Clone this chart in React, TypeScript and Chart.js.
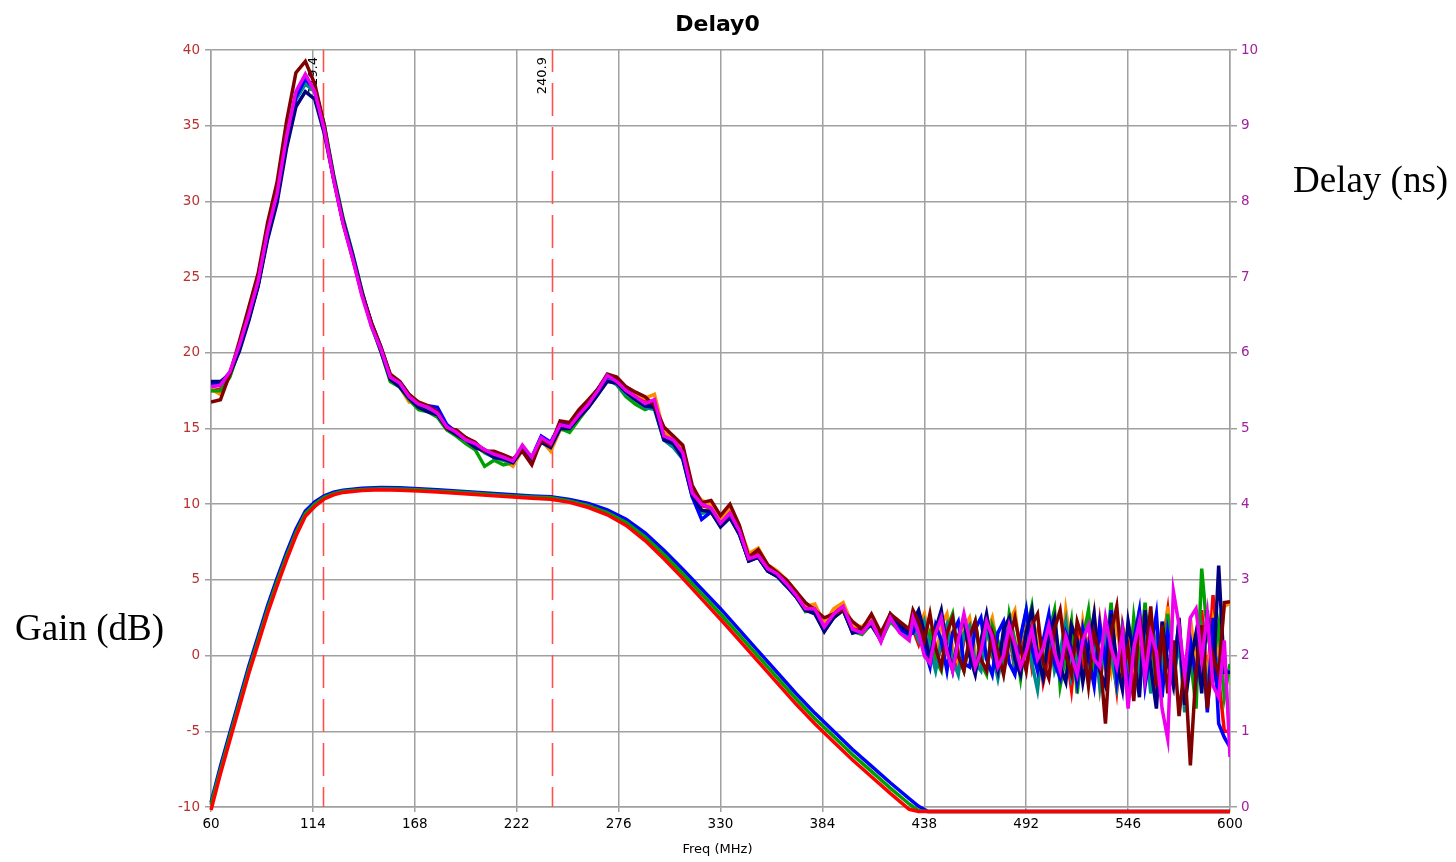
import React, { useEffect, useRef } from "react";
import { Chart, registerables } from "chart.js";

Chart.register(...registerables);

// ---------- axis ticks / markers ----------
const xTicks = [60, 114, 168, 222, 276, 330, 384, 438, 492, 546, 600];
const gainTicks = [-10, -5, 0, 5, 10, 15, 20, 25, 30, 35, 40];
const delayTicks = [0, 1, 2, 3, 4, 5, 6, 7, 8, 9, 10];
const markerFreqs = [119.4, 240.9];

// ---------- gain traces (dB) ----------
const gainFreqs = [
  60, 65, 70, 75, 80, 85, 90, 95, 100, 105, 110, 115, 120, 125, 130, 140, 150, 160, 170, 180,
  190, 200, 210, 220, 230, 240, 250, 260, 270, 280, 290, 300, 310, 320, 330, 340, 350, 360, 370, 380,
  390, 400, 410, 420, 430, 435, 440, 445, 600,
];
const gainRed = [
  -10.2, -7.8, -5.6, -3.4, -1.2, 0.8, 2.8, 4.6, 6.3, 7.9, 9.2, 9.85, 10.35, 10.62, 10.78, 10.9, 10.95, 10.92, 10.87, 10.8,
  10.72, 10.64, 10.55, 10.47, 10.4, 10.33, 10.12, 9.78, 9.3, 8.6, 7.6, 6.4, 5.1, 3.75, 2.4, 1.0, -0.4, -1.8, -3.2, -4.5,
  -5.7, -6.9, -8.0, -9.1, -10.15, -10.3, -10.3, -10.3, -10.3,
];
const gainGreen = [
  -9.85, -7.55, -5.35, -3.15, -0.95, 1.05, 3.05, 4.85, 6.55, 8.1, 9.38, 10.0, 10.45, 10.7, 10.85, 10.97, 11.02, 11.0, 10.95, 10.88,
  10.8, 10.72, 10.63, 10.55, 10.48, 10.42, 10.22, 9.9, 9.45, 8.8, 7.85, 6.68, 5.4, 4.08, 2.75, 1.35, -0.05, -1.45, -2.85, -4.15,
  -5.35, -6.55, -7.65, -8.75, -9.8, -10.25, -10.3, -10.3, -10.3,
];
const gainBlue = [
  -9.7, -7.3, -5.1, -2.9, -0.7, 1.3, 3.3, 5.1, 6.8, 8.35, 9.55, 10.15, 10.55, 10.8, 10.93, 11.05, 11.1, 11.08, 11.02, 10.95,
  10.87, 10.79, 10.7, 10.62, 10.55, 10.5, 10.32, 10.05, 9.62, 9.0, 8.1, 6.95, 5.7, 4.4, 3.1, 1.7, 0.3, -1.1, -2.5, -3.8,
  -5.0, -6.2, -7.3, -8.4, -9.45, -9.95, -10.3, -10.3, -10.3,
];

// ---------- delay traces (ns) ----------
const delayFreqs = [
  60, 65, 70, 75, 80, 85, 90, 95, 100, 105,
  110, 115, 120, 125, 130, 135, 140, 145, 150, 155,
  160, 165, 170, 175, 180, 185, 190, 195, 200, 205,
  210, 215, 220, 225, 230, 235, 240, 245, 250, 255,
  260, 265, 270, 275, 280, 285, 290, 295, 300, 305,
  310, 315, 320, 325, 330, 335, 340, 345, 350, 355,
  360, 365, 370, 375, 380, 385, 390, 395, 400, 405,
  410, 415, 420, 425, 430,
  432, 435, 438, 441, 444, 447, 450, 453, 456, 459,
  462, 465, 468, 471, 474, 477, 480, 483, 486, 489,
  492, 495, 498, 501, 504, 507, 510, 513, 516, 519,
  522, 525, 528, 531, 534, 537, 540, 543, 546, 549,
  552, 555, 558, 561, 564, 567, 570, 573, 576, 579,
  582, 585, 588, 591, 594, 597, 600,
];
const delayMagenta = [
  5.55, 5.57, 5.75, 6.1, 6.5, 6.95, 7.6, 8.1, 8.85, 9.45,
  9.68, 9.45, 8.95, 8.28, 7.7, 7.25, 6.75, 6.35, 6.05, 5.68,
  5.6, 5.42, 5.32, 5.28, 5.2, 5.02, 4.95, 4.85, 4.8, 4.72,
  4.66, 4.62, 4.57, 4.78, 4.62, 4.88, 4.8, 5.05, 5.02, 5.18,
  5.32, 5.5, 5.7, 5.62, 5.5, 5.42, 5.33, 5.38, 4.9, 4.85,
  4.68, 4.15, 4.0, 3.95, 3.75, 3.88, 3.65, 3.28, 3.32, 3.15,
  3.08, 2.95, 2.8, 2.62, 2.62, 2.38, 2.55, 2.65, 2.35, 2.3,
  2.45, 2.18, 2.5, 2.3, 2.2,
  2.5, 2.3, 2.0, 1.9, 2.3, 2.5, 2.05, 1.8, 2.2, 2.55,
  2.2, 1.85, 2.05, 2.45, 2.25, 1.85, 2.0, 2.4, 2.15, 1.85,
  2.05, 2.35, 1.95, 2.1, 2.4, 2.05, 1.8, 2.25, 2.0, 1.75,
  2.2, 2.4, 1.95, 1.85, 2.5, 2.1, 1.85, 2.3, 1.3, 2.1,
  2.45, 1.7, 2.3, 2.05, 1.3, 0.9, 2.85, 2.4, 1.75, 2.5,
  2.62, 1.95, 2.55, 1.6, 1.45, 2.2, 0.66,
];
const delayMaroon = [
  5.35, 5.38, 5.72, 6.15, 6.6, 7.05, 7.72, 8.25, 9.05, 9.7,
  9.85, 9.55, 9.0, 8.3, 7.72, 7.25, 6.78, 6.4, 6.08, 5.72,
  5.62, 5.45, 5.35, 5.3, 5.22, 5.0, 4.98, 4.88, 4.82, 4.7,
  4.7, 4.65, 4.6, 4.7, 4.52, 4.85, 4.78, 5.1, 5.08, 5.25,
  5.38, 5.52, 5.72, 5.68, 5.55, 5.48, 5.42, 5.3, 5.02, 4.9,
  4.78, 4.25, 4.02, 4.05, 3.85, 4.0, 3.72, 3.3, 3.4, 3.2,
  3.1, 3.0, 2.85, 2.7, 2.6, 2.5, 2.55, 2.6, 2.45, 2.35,
  2.55, 2.3, 2.55, 2.45, 2.35,
  2.6, 2.45, 2.2, 2.55, 2.1, 1.85, 2.3, 2.5, 2.0, 1.8,
  2.25, 2.45, 1.95, 1.8, 2.3, 2.05, 1.75, 2.2, 2.5, 2.1,
  1.8, 2.4, 2.55, 1.9, 1.7, 2.35, 2.6, 2.0, 1.75, 2.45,
  2.2, 1.6, 2.3, 2.0, 1.1, 2.3, 2.65, 1.8, 2.1, 1.4,
  2.5, 1.9, 2.65, 1.6, 2.4, 1.5, 2.2, 1.2, 1.9, 0.55,
  1.8, 2.4, 1.3, 2.0, 1.75, 2.7, 2.71,
];
const delayNavy = [
  5.62, 5.62, 5.72, 6.02, 6.42, 6.88, 7.5, 7.98, 8.7, 9.25,
  9.45, 9.35, 8.9, 8.3, 7.72, 7.28, 6.78, 6.38, 6.02, 5.65,
  5.55, 5.4, 5.28, 5.22, 5.18, 5.0, 4.92, 4.85, 4.75, 4.7,
  4.62, 4.6, 4.55, 4.72, 4.6, 4.82, 4.75, 5.0, 5.0, 5.15,
  5.28, 5.45, 5.62, 5.6, 5.48, 5.38, 5.3, 5.28, 4.85, 4.8,
  4.62, 4.12, 3.92, 3.9, 3.7, 3.82, 3.6, 3.25, 3.3, 3.12,
  3.05, 2.92, 2.78, 2.6, 2.55, 2.32, 2.5, 2.6, 2.3, 2.35,
  2.4, 2.2, 2.55, 2.4, 2.3,
  2.45, 2.6, 2.3, 1.95, 2.35, 2.6, 2.1, 1.8, 2.25, 2.5,
  2.0, 1.75, 2.2, 2.55, 2.1, 1.8, 2.35, 2.5, 1.95, 1.75,
  2.3, 2.6, 2.0, 1.7, 2.25, 2.5, 1.85, 1.65, 2.4, 2.2,
  1.65, 2.1, 2.55, 1.8, 1.6, 2.55, 1.9, 1.55, 2.45, 2.0,
  1.45, 2.6, 1.85, 1.3, 2.45, 1.9, 1.6, 2.5, 1.35, 1.9,
  2.3, 1.5, 2.6, 1.65, 3.19, 1.78, 1.78,
];
const delayBlue = [
  5.6, 5.6, 5.74, 6.08, 6.45, 6.9, 7.55, 8.05, 8.8, 9.38,
  9.62, 9.48, 8.98, 8.32, 7.75, 7.3, 6.8, 6.4, 6.08, 5.7,
  5.62, 5.45, 5.3, 5.3, 5.28, 5.05, 4.95, 4.88, 4.78, 4.72,
  4.62, 4.6, 4.58, 4.75, 4.62, 4.9, 4.82, 5.05, 5.05, 5.2,
  5.35, 5.52, 5.68, 5.65, 5.52, 5.4, 5.3, 5.3, 4.88, 4.82,
  4.6, 4.1, 3.8, 3.9, 3.72, 3.85, 3.62, 3.25, 3.3, 3.12,
  3.05, 2.92, 2.78, 2.6, 2.58, 2.32, 2.52, 2.62, 2.3, 2.32,
  2.42, 2.22, 2.52, 2.35, 2.28,
  2.3, 2.5, 2.1, 1.85, 2.4, 2.2, 1.8, 2.3, 2.45, 1.9,
  1.85, 2.35, 2.5, 1.95, 1.75, 2.3, 2.45, 1.9, 1.75, 2.25,
  2.6, 2.1, 1.8, 2.2, 2.55, 1.9, 1.7, 2.3, 2.1, 1.65,
  2.35, 2.0, 1.6, 2.4, 1.9, 2.6, 1.7, 2.3, 1.5, 2.2,
  2.6, 1.6, 2.1, 2.55, 1.45, 2.3, 1.8, 2.45, 1.4, 2.2,
  1.7, 2.35, 1.25, 2.5, 1.1, 0.92, 0.79,
];
const delayTeal = [
  5.58, 5.58, 5.72, 6.08, 6.48, 6.92, 7.55, 8.05, 8.78, 9.35,
  9.55, 9.45, 8.98, 8.32, 7.75, 7.3, 6.8, 6.38, 6.05, 5.68,
  5.58, 5.4, 5.3, 5.25, 5.18, 5.0, 4.95, 4.85, 4.78, 4.68,
  4.62, 4.58, 4.55, 4.75, 4.6, 4.85, 4.78, 5.02, 5.0, 5.15,
  5.3, 5.48, 5.65, 5.58, 5.45, 5.38, 5.28, 5.25, 4.85, 4.75,
  4.6, 4.1, 3.88, 3.9, 3.72, 3.85, 3.6, 3.28, 3.3, 3.12,
  3.05, 2.92, 2.78, 2.6, 2.6, 2.35, 2.52, 2.62, 2.32, 2.3,
  2.42, 2.2, 2.48, 2.32, 2.25,
  2.4, 2.2, 2.45, 2.1, 1.8, 2.2, 2.4, 1.95, 1.75, 2.3,
  2.4, 1.9, 1.8, 2.35, 2.05, 1.7, 2.1, 2.35, 1.85, 2.2,
  2.6, 1.9, 1.55, 2.2, 2.35, 1.8, 2.05, 2.45, 1.7, 1.95,
  2.3, 1.7, 2.25, 1.6, 2.3, 2.0, 1.6, 2.35, 1.9, 2.2,
  1.75, 2.3, 1.5, 2.2, 1.8, 2.35, 1.65, 2.2, 1.25, 2.15,
  1.7, 2.3, 1.55, 2.1, 1.85, 1.8, 1.8,
];
const delayGreen = [
  5.5, 5.5, 5.68, 6.05, 6.45, 6.9, 7.55, 8.05, 8.82, 9.42,
  9.6, 9.5, 9.02, 8.35, 7.78, 7.32, 6.82, 6.35, 6.02, 5.62,
  5.55, 5.38, 5.25, 5.22, 5.15, 4.98, 4.9, 4.8, 4.72, 4.5,
  4.58, 4.52, 4.55, 4.72, 4.6, 4.82, 4.75, 5.0, 4.95, 5.12,
  5.28, 5.45, 5.65, 5.58, 5.42, 5.32, 5.25, 5.3, 4.88, 4.8,
  4.65, 4.15, 3.9, 3.92, 3.72, 3.85, 3.62, 3.25, 3.3, 3.12,
  3.05, 2.92, 2.78, 2.58, 2.6, 2.35, 2.5, 2.6, 2.32, 2.28,
  2.42, 2.2, 2.45, 2.32, 2.25,
  2.35, 2.5, 2.05, 2.3, 1.95, 1.8, 2.35, 2.55, 2.0, 1.8,
  2.2, 2.45, 1.9, 1.75, 2.4, 2.2, 1.8, 2.55, 2.2, 1.7,
  2.3, 2.65, 2.0, 1.75, 2.3, 2.6, 1.6, 2.0, 2.45, 1.5,
  2.2, 2.6, 1.8, 2.35, 1.95, 2.7, 1.65, 2.1, 1.55, 2.5,
  1.9, 2.7, 1.7, 2.2, 1.6, 2.55, 1.75, 2.3, 1.5, 2.0,
  1.3, 3.15, 2.3, 1.9, 2.4, 1.45, 1.89,
];
const delayOrange = [
  5.52, 5.45, 5.7, 6.05, 6.45, 6.9, 7.55, 8.05, 8.82, 9.4,
  9.62, 9.5, 9.0, 8.32, 7.72, 7.28, 6.78, 6.38, 6.05, 5.7,
  5.55, 5.35, 5.35, 5.3, 5.2, 5.05, 4.95, 4.88, 4.8, 4.72,
  4.62, 4.58, 4.5, 4.72, 4.6, 4.85, 4.7, 4.98, 5.0, 5.2,
  5.3, 5.5, 5.68, 5.62, 5.55, 5.45, 5.4, 5.45, 4.95, 4.88,
  4.72, 4.2, 4.05, 4.0, 3.8, 3.95, 3.7, 3.35, 3.42, 3.2,
  3.12, 3.0, 2.85, 2.65, 2.68, 2.42, 2.62, 2.7, 2.4, 2.38,
  2.5, 2.25, 2.55, 2.38, 2.3,
  2.5, 2.35, 2.55, 2.2, 1.95, 2.4, 2.55, 2.1, 1.9, 2.35,
  2.5, 2.05, 1.85, 2.3, 2.5, 2.1, 1.9, 2.45, 2.6, 2.0,
  1.85, 2.5, 2.2, 1.8, 2.45, 2.2, 1.75, 2.6, 2.1, 1.7,
  2.45, 2.0, 2.55, 1.6, 2.2, 1.8, 2.5, 1.7, 2.35, 1.9,
  2.6, 1.75, 2.4, 2.05, 1.55, 2.65, 1.9, 2.3, 1.6, 2.5,
  1.85, 2.2, 1.7, 2.45, 2.0, 2.65, 2.69,
];
const delayRed = [
  5.5, 5.52, 5.72, 6.08, 6.48, 6.92, 7.58, 8.08, 8.85, 9.42,
  9.65, 9.45, 8.95, 8.3, 7.72, 7.28, 6.78, 6.38, 6.05, 5.68,
  5.58, 5.4, 5.3, 5.28, 5.2, 5.02, 4.95, 4.85, 4.78, 4.7,
  4.64, 4.6, 4.55, 4.75, 4.6, 4.85, 4.8, 5.05, 5.02, 5.2,
  5.35, 5.52, 5.7, 5.62, 5.5, 5.42, 5.35, 5.35, 4.9, 4.85,
  4.68, 4.18, 3.98, 3.95, 3.75, 3.9, 3.65, 3.3, 3.35, 3.15,
  3.08, 2.95, 2.8, 2.62, 2.65, 2.4, 2.55, 2.68, 2.38, 2.32,
  2.48, 2.2, 2.5, 2.35, 2.28,
  2.35, 2.15, 2.4, 2.25, 1.9, 2.1, 2.4, 2.0, 1.8, 2.2,
  2.35, 1.85, 2.0, 2.4, 2.0, 1.75, 2.25, 2.3, 1.8, 1.95,
  2.35, 1.85, 2.3, 1.65, 2.0, 2.35, 1.75, 2.1, 1.55, 2.3,
  1.9, 2.2, 1.7, 2.45, 1.85, 2.15, 1.55, 2.4, 2.0, 1.6,
  2.55, 1.85, 2.3, 1.5, 2.1, 2.6, 1.7, 2.2, 1.45, 2.35,
  1.9, 2.6, 1.6, 2.8, 1.7, 1.0, 1.0,
];

const TICK_FONT = { family: "'DejaVu Sans', Verdana, sans-serif", size: 13.5 };
const GRID = "#a0a0a0";

export default function App() {
  const ref = useRef<HTMLCanvasElement>(null);

  useEffect(() => {
    const canvas = ref.current;
    if (!canvas) return;

    const pts = (xs: number[], ys: number[]) => xs.map((x, i) => ({ x, y: ys[i] }));

    const delaySets = [
      { label: "Delay magenta", ys: delayMagenta, color: "#ee00ee" },
      { label: "Delay maroon", ys: delayMaroon, color: "#800000" },
      { label: "Delay navy", ys: delayNavy, color: "#000080" },
      { label: "Delay blue", ys: delayBlue, color: "#0000ff" },
      { label: "Delay teal", ys: delayTeal, color: "#008b8b" },
      { label: "Delay green", ys: delayGreen, color: "#00a000" },
      { label: "Delay orange", ys: delayOrange, color: "#ff8c00" },
      { label: "Delay red", ys: delayRed, color: "#ff0000" },
    ].map((s) => ({
      label: s.label,
      data: pts(delayFreqs, s.ys),
      yAxisID: "y2",
      borderColor: s.color,
      backgroundColor: s.color,
      borderWidth: 3.5,
      pointRadius: 0,
      tension: 0,
      fill: false,
    }));

    const gainSets = [
      { label: "Gain red", ys: gainRed, color: "#ff0000" },
      { label: "Gain green", ys: gainGreen, color: "#00a000" },
      { label: "Gain blue", ys: gainBlue, color: "#0000ff" },
    ].map((s) => ({
      label: s.label,
      data: pts(gainFreqs, s.ys),
      yAxisID: "y",
      borderColor: s.color,
      backgroundColor: s.color,
      borderWidth: 3.5,
      pointRadius: 0,
      tension: 0,
      fill: false,
      clip: false as any,
    }));

    const overlay = {
      id: "overlay",
      beforeDatasetsDraw(chart: any) {
        const { ctx, chartArea, scales } = chart;
        ctx.save();
        markerFreqs.forEach((f) => {
          const px = Math.round(scales.x.getPixelForValue(f)) + 0.5;
          ctx.strokeStyle = "#ff5050";
          ctx.lineWidth = 1.6;
          ctx.setLineDash([33, 11]);
          ctx.lineDashOffset = 11;
          ctx.beginPath();
          ctx.moveTo(px, chartArea.top);
          ctx.lineTo(px, chartArea.bottom);
          ctx.stroke();
          ctx.setLineDash([]);
          ctx.save();
          ctx.translate(px - 3, chartArea.top + 7);
          ctx.rotate(-Math.PI / 2);
          ctx.font = "13px 'DejaVu Sans', Verdana, sans-serif";
          ctx.fillStyle = "#000";
          ctx.textAlign = "right";
          ctx.textBaseline = "bottom";
          ctx.fillText(f.toFixed(1), 0, 0);
          ctx.restore();
        });
        ctx.restore();
      },
      afterDraw(chart: any) {
        const { ctx, chartArea } = chart;
        const cx = (chartArea.left + chartArea.right) / 2 - 3;
        ctx.save();
        ctx.fillStyle = "#000";
        ctx.textAlign = "center";
        ctx.textBaseline = "alphabetic";
        ctx.font = "bold 22px 'DejaVu Sans', Verdana, sans-serif";
        ctx.fillText("Delay0", cx, 31);
        ctx.font = "13px 'DejaVu Sans', Verdana, sans-serif";
        ctx.textBaseline = "middle";
        ctx.fillText("Freq (MHz)", cx, 850);
        ctx.textAlign = "left";
        ctx.textBaseline = "alphabetic";
        ctx.font = "37px 'Liberation Serif', 'Times New Roman', serif";
        ctx.fillText("Gain (dB)", 15, 640);
        ctx.fillText("Delay (ns)", 1293, 192);
        ctx.restore();
      },
    };

    const chart = new Chart(canvas, {
      type: "line",
      data: { datasets: [...gainSets, ...delaySets] as any },
      options: {
        responsive: false,
        animation: false,
        events: [],
        layout: { padding: { top: 50, left: 0, right: 0, bottom: 0 } },
        plugins: { legend: { display: false }, tooltip: { enabled: false }, title: { display: false } },
        scales: {
          x: {
            type: "linear",
            min: 60,
            max: 600,
            afterBuildTicks: (s: any) => {
              s.ticks = xTicks.map((v) => ({ value: v }));
            },
            afterFit: (s: any) => {
              s.height = 55;
            },
            grid: { color: GRID, lineWidth: 1.5, tickLength: 5 },
            border: { display: true, color: GRID, width: 1.5 },
            ticks: { font: TICK_FONT, color: "#000", padding: 4, maxRotation: 0, autoSkip: false },
          },
          y: {
            type: "linear",
            position: "left",
            min: -10,
            max: 40,
            afterBuildTicks: (s: any) => {
              s.ticks = gainTicks.map((v) => ({ value: v }));
            },
            afterFit: (s: any) => {
              s.width = 211;
            },
            grid: { color: GRID, lineWidth: 1.5, tickLength: 6 },
            border: { display: true, color: GRID, width: 1.5 },
            ticks: { font: TICK_FONT, color: "#b8312f", padding: 5, autoSkip: false },
          },
          y2: {
            type: "linear",
            position: "right",
            min: 0,
            max: 10,
            afterBuildTicks: (s: any) => {
              s.ticks = delayTicks.map((v) => ({ value: v }));
            },
            afterFit: (s: any) => {
              s.width = 226;
            },
            grid: { drawOnChartArea: false, color: GRID, lineWidth: 1.5, tickLength: 7 },
            border: { display: true, color: GRID, width: 1.5 },
            ticks: { font: TICK_FONT, color: "#a020a0", padding: 4, autoSkip: false },
          },
        },
      } as any,
      plugins: [overlay],
    });

    return () => chart.destroy();
  }, []);

  return (
    <div style={{ position: "absolute", left: 0, top: 0, width: 1456, height: 862, background: "#fff" }}>
      <canvas ref={ref} width={1456} height={862} style={{ display: "block" }} />
    </div>
  );
}
